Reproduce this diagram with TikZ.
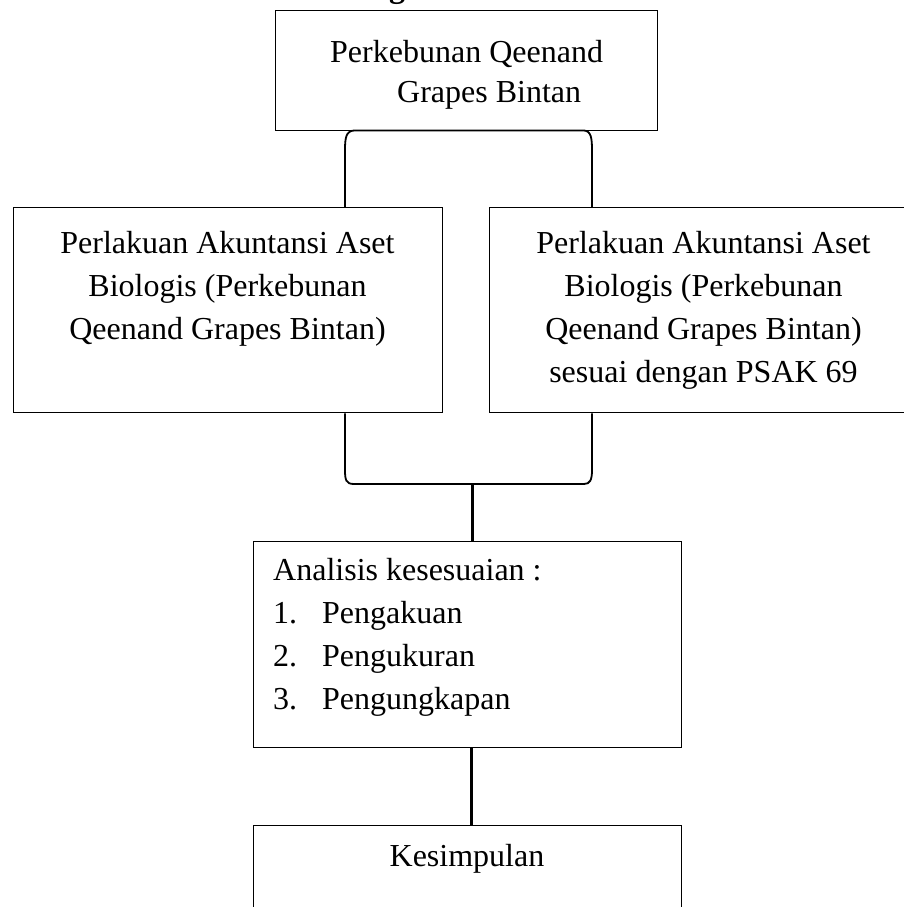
\documentclass[tikz,border=0pt]{standalone}
\usepackage{fontspec}
\setmainfont{Liberation Serif}
\begin{document}
\begin{tikzpicture}[x=1pt,y=-1pt,
  box/.style={draw, line width=1.3pt, inner sep=0pt, anchor=north west},
  txt/.style={inner sep=0pt, font=\fontsize{32}{43}\selectfont},
  con/.style={line width=1.8pt},
  trunk/.style={line width=3pt}]
\useasboundingbox (0,0) rectangle (904,907);
% partial heading glyph at the top edge
\node[inner sep=0pt, anchor=base, font=\fontsize{32}{38}\selectfont\bfseries] (hdg) at (397,-2) {g};
% boxes
\node[box, minimum width=382pt, minimum height=120pt] (top) at (275,10) {};
\node[box, minimum width=429pt, minimum height=205pt] (lbox) at (13,207) {};
\node[box, minimum width=440pt, minimum height=205pt] (rbox) at (489,207) {};
\node[box, minimum width=428pt, minimum height=206pt] (ana) at (253,541) {};
\node[box, minimum width=428pt, minimum height=120pt] (kes) at (253,825) {};
% texts
\node[txt, anchor=north west, align=left, font=\fontsize{32}{40}\selectfont] (toptxt) at (330,40)
  {Perkebunan Qeenand\\\hspace*{67pt}Grapes Bintan};
\node[txt, anchor=north, align=center] (ltxt) at (227.5,231)
  {Perlakuan Akuntansi Aset\\Biologis (Perkebunan\\Qeenand Grapes Bintan)};
\node[txt, anchor=north, align=center] (rtxt) at (703.5,231)
  {Perlakuan Akuntansi Aset\\Biologis (Perkebunan\\Qeenand Grapes Bintan)\\sesuai dengan PSAK 69};
\node[txt, anchor=north west, align=left] (atxt) at (273,558)
  {Analisis kesesuaian :\\\makebox[49pt][l]{1.}Pengakuan\\\makebox[49pt][l]{2.}Pengukuran\\\makebox[49pt][l]{3.}Pengungkapan};
\node[txt, anchor=base] (ktxt) at (467,866) {Kesimpulan};
% connectors
\coordinate (xl) at (345,0);
\coordinate (xr) at (592,0);
\coordinate (bar) at (472,484);
\coordinate (xk) at (471,0);
\draw[con] (lbox.north -| xl) -- (345,150) .. controls (345,138) and (346,131) .. (354,130.5)
  -- (584,130.5) .. controls (591,131) and (592,138) .. (592,150) -- (rbox.north -| xr);
\draw[con] (lbox.south -| xl) -- (345,470) .. controls (345,480) and (346,484) .. (354,484)
  -- (584,484) .. controls (590,484) and (592,480) .. (592,470) -- (rbox.south -| xr);
\draw[trunk] (bar) -- (ana.north -| bar);
\draw[trunk] (ana.south -| xk) -- (kes.north -| xk);
\end{tikzpicture}
\end{document}
